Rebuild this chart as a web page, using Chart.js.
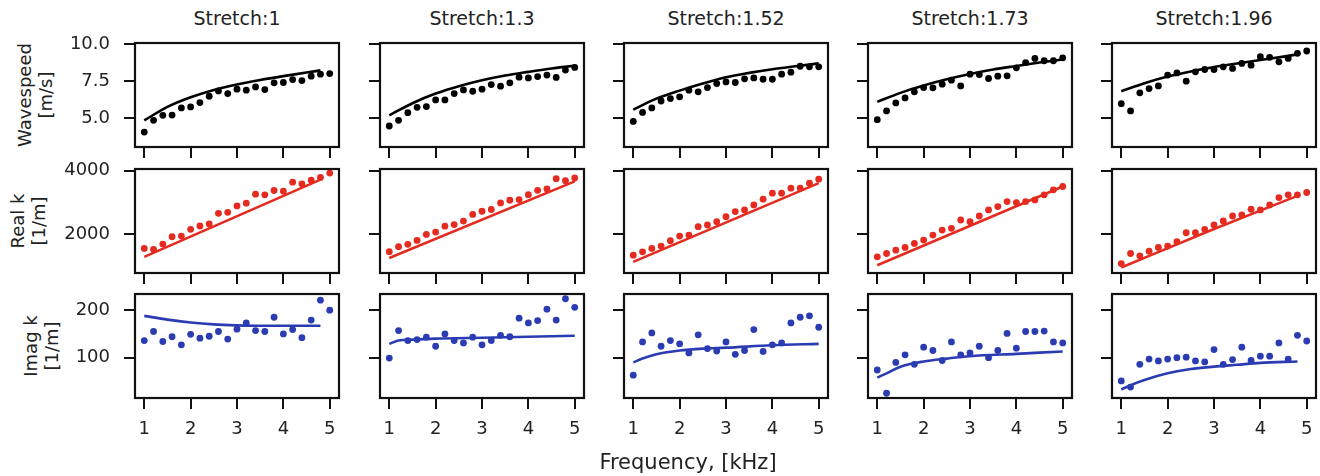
<!DOCTYPE html>
<html lang="en">

<head>
    <meta charset="UTF-8">
    <title>Stretch comparison</title>
    <script src="https://cdn.jsdelivr.net/npm/chart.js"></script>
    <style>
        body { margin: 0; background: #fff; }
        #figura { position: relative; width: 1320px; height: 476px; overflow: hidden; font-family: 'DejaVu Sans', sans-serif; color: #222; }
        #figura canvas { position: absolute; }
        .titulo { position: absolute; width: 204px; text-align: center; font-size: 19px; line-height: 19px; }
        .rotulo { position: absolute; width: 140px; height: 42px; text-align: center; font-size: 18px; line-height: 21px; transform: rotate(-90deg); }
        .xlabel { position: absolute; width: 300px; text-align: center; font-size: 21px; line-height: 21px; }
    </style>
</head>

<body>
    <div id="figura"></div>

<script>
    // dados
    const stretches = ['1', '1.3', '1.52', '1.73', '1.96'];
    const freq = [1, 1.2, 1.4, 1.6, 1.8, 2, 2.2, 2.4, 2.6, 2.8, 3, 3.2, 3.4, 3.6, 3.8, 4, 4.2, 4.4, 4.6, 4.8, 5];
    const freqTicks = [1, 2, 3, 4, 5];
    const wsTicks = [5, 7.5, 10];
    const realTicks = [2000, 4000];
    const imagTicks = [100, 200];

    // Wavespeed [m/s]
    const ws1 = [4.05, 4.84, 5.18, 5.2, 5.68, 5.75, 6.04, 6.47, 6.83, 6.65, 6.95, 6.88, 7.1, 6.92, 7.38, 7.4, 7.6, 7.53, 7.83, 7.96, 8.0];
    const ws2 = [4.46, 4.84, 5.36, 5.72, 5.77, 6.22, 6.22, 6.65, 6.9, 6.81, 6.95, 7.26, 7.15, 7.38, 7.76, 7.71, 7.8, 7.9, 7.74, 8.24, 8.42];
    const ws3 = [4.77, 5.38, 5.68, 6.15, 6.31, 6.43, 6.88, 6.77, 7.06, 7.33, 7.44, 7.4, 7.65, 7.71, 7.62, 7.62, 7.96, 8.1, 8.5, 8.46, 8.46];
    const ws4 = [4.89, 5.48, 6.02, 6.36, 6.77, 7.06, 7.04, 7.29, 7.56, 7.17, 7.96, 7.94, 7.67, 7.83, 7.85, 8.39, 8.75, 9.03, 8.87, 8.87, 9.07];
    const ws5 = [5.97, 5.48, 6.7, 6.99, 7.17, 7.9, 8.05, 7.49, 8.12, 8.28, 8.28, 8.46, 8.35, 8.69, 8.57, 9.14, 9.1, 8.8, 9.03, 9.37, 9.53];
    const ws1Fit = [[1, 4.84], [1.5, 5.75], [2, 6.4], [2.5, 6.9], [3, 7.27], [3.5, 7.57], [4, 7.83], [4.5, 8.07], [4.8, 8.22]];
    const ws2Fit = [[1, 5.18], [1.5, 6.0], [2, 6.65], [2.5, 7.15], [3, 7.55], [3.5, 7.87], [4, 8.12], [4.5, 8.35], [5, 8.53]];
    const ws3Fit = [[1, 5.57], [1.5, 6.31], [2, 6.85], [2.5, 7.33], [3, 7.75], [3.5, 8.05], [4, 8.3], [4.5, 8.5], [5, 8.69]];
    const ws4Fit = [[1, 6.09], [1.5, 6.7], [2, 7.2], [2.5, 7.62], [3, 7.98], [3.5, 8.28], [4, 8.52], [4.5, 8.75], [5, 8.96]];
    const ws5Fit = [[1, 6.81], [1.5, 7.35], [2, 7.8], [2.5, 8.15], [3, 8.45], [3.5, 8.68], [4, 8.92], [4.5, 9.15], [4.8, 9.3]];

    // Real k [1/m]
    const rk1 = [1545, 1513, 1683, 1915, 1936, 2148, 2254, 2317, 2656, 2688, 2889, 2974, 3259, 3238, 3376, 3355, 3640, 3587, 3700, 3790, 3926];
    const rk2 = [1445, 1600, 1675, 1800, 1990, 2063, 2250, 2300, 2410, 2620, 2720, 2775, 2985, 3070, 3090, 3245, 3380, 3425, 3750, 3685, 3770];
    const rk3 = [1333, 1439, 1545, 1619, 1788, 1937, 1968, 2233, 2286, 2392, 2550, 2709, 2762, 2921, 3101, 3291, 3291, 3450, 3450, 3608, 3735];
    const rk4 = [1280, 1386, 1492, 1577, 1704, 1810, 1968, 2127, 2180, 2444, 2392, 2571, 2762, 2868, 3026, 2995, 3026, 3079, 3238, 3397, 3503];
    const rk5 = [1069, 1386, 1312, 1460, 1577, 1619, 1757, 2042, 2042, 2148, 2286, 2413, 2571, 2603, 2783, 2762, 2921, 3153, 3238, 3238, 3312];
    const rk1Fit = [[1, 1280], [4.8, 3720]];
    const rk2Fit = [[1, 1245], [5, 3665]];
    const rk3Fit = [[1, 1122], [5, 3608]];
    const rk4Fit = [[1, 1016], [5, 3503]];
    const rk5Fit = [[1, 942], [3, 2160], [4.8, 3206]];

    // Imag k [1/m]
    const ik1 = [136, 155, 134, 144, 127, 149, 141, 145, 155, 139, 160, 173, 157, 155, 185, 150, 159, 142, 179, 221, 200];
    const ik2 = [99, 157, 136, 138, 143, 124, 150, 136, 131, 143, 127, 136, 147, 144, 183, 173, 178, 202, 179, 224, 206];
    const ik3 = [63, 133, 152, 124, 136, 129, 110, 148, 119, 114, 133, 107, 115, 159, 113, 127, 131, 173, 185, 188, 164];
    const ik4 = [74, 25, 90, 106, 86, 122, 115, 94, 133, 106, 110, 124, 100, 115, 151, 120, 155, 155, 156, 133, 131];
    const ik5 = [51, 38, 86, 97, 93, 97, 100, 101, 93, 91, 117, 86, 96, 122, 94, 103, 103, 131, 97, 147, 135];
    const ik1Fit = [[1, 188], [1.5, 180], [2, 174], [2.5, 170], [3, 168], [3.5, 167], [4, 167], [4.8, 167]];
    const ik2Fit = [[1, 129], [1.2, 136], [1.5, 138], [2, 140], [3, 142], [4, 144], [5, 146]];
    const ik3Fit = [[1, 90], [1.2, 98], [1.5, 107], [2, 115], [2.5, 119], [3, 121], [4, 126], [5, 129]];
    const ik4Fit = [[1, 58], [1.2, 67], [1.5, 81], [2, 92], [2.5, 98], [3, 103], [4, 108], [5, 113]];
    const ik5Fit = [[1, 33], [1.2, 42], [1.5, 53], [2, 67], [2.5, 76], [3, 81], [3.5, 85], [4, 89], [4.8, 92]];

    // layout dos paineis (pixels)
    const esquerdas = [135, 380, 624, 868, 1112];
    const topos = [43, 169, 294];
    const larguraPainel = 204;
    const alturaPainel = 104;
    const eixoY = 70, eixoX = 40, margem = 14;

    const linhas = [
        { rotulo: ['Wavespeed', '[m/s]'], rx: 35, cor: '#000000', min: 3.04, max: 10.07, ticks: wsTicks, fmt: v => v.toFixed(1),
          pontos: [ws1, ws2, ws3, ws4, ws5], ajustes: [ws1Fit, ws2Fit, ws3Fit, ws4Fit, ws5Fit] },
        { rotulo: ['Real k', '[1/m]'], rx: 28, cor: '#e52b20', min: 770, max: 4055, ticks: realTicks, fmt: v => String(v),
          pontos: [rk1, rk2, rk3, rk4, rk5], ajustes: [rk1Fit, rk2Fit, rk3Fit, rk4Fit, rk5Fit] },
        { rotulo: ['Imag k', '[1/m]'], rx: 41, cor: '#2b3cb3', min: 15, max: 234, ticks: imagTicks, fmt: v => String(v),
          pontos: [ik1, ik2, ik3, ik4, ik5], ajustes: [ik1Fit, ik2Fit, ik3Fit, ik4Fit, ik5Fit] }
    ];

    const figura = document.getElementById('figura');
    const fonteTick = { family: 'DejaVu Sans', size: 18 };

    // moldura completa em volta da area do grafico
    const moldura = {
        id: 'moldura',
        afterDatasetsDraw(chart) {
            const a = chart.chartArea;
            const ctx = chart.ctx;
            ctx.save();
            ctx.strokeStyle = '#111';
            ctx.lineWidth = 2.2;
            ctx.strokeRect(a.left, a.top, a.right - a.left, a.bottom - a.top);
            ctx.restore();
        }
    };

    stretches.forEach((s, c) => {
        const t = document.createElement('div');
        t.className = 'titulo';
        t.style.left = esquerdas[c] + 'px';
        t.style.top = '8.5px';
        t.textContent = 'Stretch:' + s;
        figura.appendChild(t);
    });

    linhas.forEach((linha, r) => {
        const rot = document.createElement('div');
        rot.className = 'rotulo';
        rot.style.left = (linha.rx - 70) + 'px';
        rot.style.top = (topos[r] + alturaPainel / 2 - 21) + 'px';
        rot.innerHTML = linha.rotulo.join('<br>');
        figura.appendChild(rot);

        for (let c = 0; c < 5; c++) {
            const canvas = document.createElement('canvas');
            canvas.width = eixoY + larguraPainel + margem;
            canvas.height = margem + alturaPainel + eixoX;
            canvas.style.left = (esquerdas[c] - eixoY) + 'px';
            canvas.style.top = (topos[r] - margem) + 'px';
            figura.appendChild(canvas);

            new Chart(canvas, {
                type: 'scatter',
                data: {
                    datasets: [
                        {
                            data: freq.map((f, i) => ({ x: f, y: linha.pontos[c][i] })),
                            backgroundColor: linha.cor,
                            borderColor: linha.cor,
                            borderWidth: 0,
                            pointRadius: 3.4,
                            pointHoverRadius: 3.4,
                            order: 2
                        },
                        {
                            data: linha.ajustes[c].map(p => ({ x: p[0], y: p[1] })),
                            showLine: true,
                            pointRadius: 0,
                            borderColor: linha.cor,
                            borderWidth: 2.6,
                            cubicInterpolationMode: 'monotone',
                            order: 1
                        }
                    ]
                },
                plugins: [moldura],
                options: {
                    responsive: false,
                    animation: false,
                    layout: { padding: { top: margem, right: margem, left: 0, bottom: 0 } },
                    plugins: { legend: { display: false }, tooltip: { enabled: false } },
                    scales: {
                        x: {
                            type: 'linear',
                            min: 0.8,
                            max: 5.2,
                            afterBuildTicks: sc => { sc.ticks = freqTicks.map(v => ({ value: v })); },
                            afterFit: sc => { sc.height = eixoX; sc.paddingLeft = 0; sc.paddingRight = 0; },
                            ticks: { display: r === 2, font: fonteTick, color: '#222', padding: 10, maxRotation: 0 },
                            grid: { drawOnChartArea: false, tickLength: 11, lineWidth: 2, color: '#111' },
                            border: { display: false }
                        },
                        y: {
                            min: linha.min,
                            max: linha.max,
                            afterBuildTicks: sc => { sc.ticks = linha.ticks.map(v => ({ value: v })); },
                            afterFit: sc => { sc.width = eixoY; sc.paddingTop = 0; sc.paddingBottom = 0; },
                            ticks: { display: c === 0, font: fonteTick, color: '#222', padding: 14, callback: v => linha.fmt(v) },
                            grid: { drawOnChartArea: false, tickLength: 11, lineWidth: 2, color: '#111' },
                            border: { display: false }
                        }
                    }
                }
            });
        }
    });

    const xl = document.createElement('div');
    xl.className = 'xlabel';
    xl.style.left = (688 - 150) + 'px';
    xl.style.top = (462 - 10.5) + 'px';
    xl.textContent = 'Frequency, [kHz]';
    figura.appendChild(xl);
</script>
</body>

</html>
